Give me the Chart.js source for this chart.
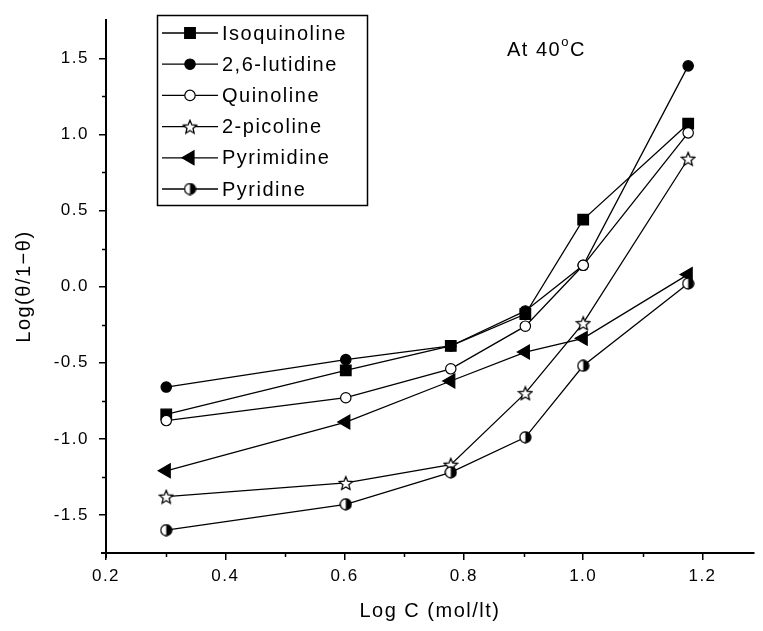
<!DOCTYPE html>
<html><head><meta charset="utf-8">
<script src="https://cdn.jsdelivr.net/npm/chart.js@4.4.1/dist/chart.umd.min.js"></script>
<style>html,body{margin:0;padding:0;background:#fff;} #wrap{width:763px;height:631px;position:relative;}</style>
</head><body><div id="wrap"><canvas id="c" width="763" height="631"></canvas></div>
<script>
// ---- data ----
const logC = [0.301, 0.602, 0.778, 0.903, 1.000, 1.176];
const isoquinoline = [-0.84, -0.55, -0.39, -0.18, 0.44, 1.07];
const lutidine     = [-0.66, -0.48, -0.39, -0.16, 0.14, 1.45];
const quinoline    = [-0.88, -0.73, -0.54, -0.26, 0.14, 1.01];
const picoline     = [-1.38, -1.29, -1.17, -0.70, -0.24, 0.84];
const pyrimidine   = [-1.21, -0.89, -0.62, -0.43, -0.34, 0.08];
const pyridine     = [-1.60, -1.43, -1.22, -0.99, -0.52, 0.02];
const seriesNames = ['Isoquinoline', '2,6-lutidine', 'Quinoline', '2-picoline', 'Pyrimidine', 'Pyridine'];
const xTicks = [0.2, 0.4, 0.6, 0.8, 1.0, 1.2];
const yTicks = [-1.5, -1.0, -0.5, 0.0, 0.5, 1.0, 1.5];
const xMinorTicks = [0.3, 0.5, 0.7, 0.9, 1.1];
const yMinorTicks = [-1.25, -0.75, -0.25, 0.25, 0.75, 1.25];
const xTitle = 'Log C (mol/lt)';
const yTitle = 'Log(\u03b8/1\u2212\u03b8)';
const noteMain = 'At 40', noteSup = 'o', noteEnd = 'C';

const FONT = "'Liberation Sans', Arial, sans-serif";

function makeStar(size) {
  const c = document.createElement('canvas'); c.width = c.height = size;
  const g = c.getContext('2d');
  const cx = size / 2, cy = size / 2 + 0.8, R = size / 2 - 1, r = R * 0.45;
  g.beginPath();
  for (let i = 0; i < 10; i++) {
    const a = -Math.PI / 2 + i * Math.PI / 5, rr = i % 2 ? r : R;
    g.lineTo(cx + rr * Math.cos(a), cy + rr * Math.sin(a));
  }
  g.closePath(); g.fillStyle = '#fff'; g.fill();
  g.strokeStyle = '#000'; g.lineWidth = 1.3; g.stroke();
  return c;
}
function makeHalf(size) {
  const c = document.createElement('canvas'); c.width = c.height = size;
  const g = c.getContext('2d');
  const cx = size / 2, cy = size / 2, r = size / 2 - 1;
  g.beginPath(); g.arc(cx, cy, r, 0, Math.PI * 2); g.fillStyle = '#fff'; g.fill();
  g.beginPath(); g.moveTo(cx, cy - r); g.arc(cx, cy, r, -Math.PI / 2, Math.PI / 2); g.closePath();
  g.fillStyle = '#000'; g.fill();
  g.beginPath(); g.arc(cx, cy, r, 0, Math.PI * 2); g.strokeStyle = '#000'; g.lineWidth = 1.3; g.stroke();
  return c;
}
const starImg = makeStar(16);
const halfImg = makeHalf(13);

const seriesValues = [isoquinoline, lutidine, quinoline, picoline, pyrimidine, pyridine];
const styles = [
  {pointStyle: 'rect', pointRadius: 7.5, pointBackgroundColor: '#000', pointRotation: 0},
  {pointStyle: 'circle', pointRadius: 5.2, pointBackgroundColor: '#000', pointRotation: 0},
  {pointStyle: 'circle', pointRadius: 5.2, pointBackgroundColor: '#fff', pointRotation: 0},
  {pointStyle: starImg, pointRadius: 8, pointBackgroundColor: '#fff', pointRotation: 0},
  {pointStyle: 'triangle', pointRadius: 8, pointBackgroundColor: '#000', pointRotation: -90},
  {pointStyle: halfImg, pointRadius: 6.5, pointBackgroundColor: '#fff', pointRotation: 0}
];

const datasets = seriesNames.map((name, i) => Object.assign({
  label: name,
  data: logC.map((x, j) => ({x: x, y: seriesValues[i][j]})),
  borderColor: '#000',
  borderWidth: 1.3,
  pointBorderColor: '#000',
  pointBorderWidth: 1.2,
  pointHoverRadius: 0,
  fill: false,
  tension: 0,
  order: 10 - i
}, styles[i]));

const helperPlugin = {
  id: 'helper',
  beforeDraw(chart) {
    chart.ctx.letterSpacing = '1.5px';
  },
  afterDraw(chart) {
    const ctx = chart.ctx, xs = chart.scales.x, ys = chart.scales.y, ca = chart.chartArea;
    ctx.save();
    ctx.strokeStyle = '#000'; ctx.lineWidth = 1.5;
    // minor ticks
    xMinorTicks.forEach(v => {
      const px = Math.round(xs.getPixelForValue(v)) + 0.5;
      ctx.beginPath(); ctx.moveTo(px, ca.bottom); ctx.lineTo(px, ca.bottom + 4); ctx.stroke();
    });
    yMinorTicks.forEach(v => {
      const py = Math.round(ys.getPixelForValue(v)) + 0.5;
      ctx.beginPath(); ctx.moveTo(ca.left, py); ctx.lineTo(ca.left - 4, py); ctx.stroke();
    });
    // axis overhangs
    ctx.lineWidth = 2;
    ctx.beginPath(); ctx.moveTo(ca.left - 5, ca.bottom); ctx.lineTo(ca.left, ca.bottom); ctx.stroke();
    ctx.beginPath(); ctx.moveTo(ca.left, ca.bottom); ctx.lineTo(ca.left, ca.bottom + 5); ctx.stroke();

    // legend
    const bx = 157, by = 15, bw = 210, bh = 190;
    ctx.fillStyle = '#fff'; ctx.fillRect(bx, by, bw, bh);
    ctx.lineWidth = 1.5; ctx.strokeStyle = '#000';
    ctx.strokeRect(bx + 0.5, by + 0.5, bw, bh);
    ctx.font = '20px ' + FONT; ctx.textBaseline = 'middle'; ctx.textAlign = 'left';
    chart.data.datasets.forEach((ds, i) => {
      const y = by + 18 + i * 31.2;
      ctx.strokeStyle = '#000'; ctx.lineWidth = 1.3;
      ctx.beginPath(); ctx.moveTo(bx + 5, y); ctx.lineTo(bx + 61, y); ctx.stroke();
      ctx.fillStyle = ds.pointBackgroundColor; ctx.strokeStyle = '#000'; ctx.lineWidth = ds.pointBorderWidth;
      Chart.helpers.drawPoint(ctx, {pointStyle: ds.pointStyle, rotation: ds.pointRotation, radius: ds.pointRadius, borderWidth: ds.pointBorderWidth}, bx + 33, y);
      ctx.fillStyle = '#000';
      ctx.fillText(ds.label, bx + 65, y + 1);
    });
    // annotation
    ctx.textBaseline = 'alphabetic';
    ctx.font = '20px ' + FONT;
    let x = 507; const base = 56;
    ctx.fillText(noteMain, x, base); x += ctx.measureText(noteMain).width;
    ctx.font = '13px ' + FONT;
    ctx.fillText(noteSup, x, base - 10); x += ctx.measureText(noteSup).width;
    ctx.font = '20px ' + FONT;
    ctx.fillText(noteEnd, x, base);
    ctx.restore();
  }
};

new Chart(document.getElementById('c'), {
  type: 'line',
  data: {datasets: datasets},
  plugins: [helperPlugin],
  options: {
    responsive: false,
    animation: false,
    events: [],
    layout: {padding: {top: 16, right: 0, bottom: 0, left: 0}},
    plugins: {legend: {display: false}, tooltip: {enabled: false}},
    scales: {
      x: {
        type: 'linear', position: 'bottom', min: 0.2, max: 1.286,
        afterBuildTicks: s => { s.ticks = xTicks.map(v => ({value: v})); },
        afterFit: s => { s.height = 78; },
        ticks: {color: '#000', font: {family: FONT, size: 17}, padding: 6, maxRotation: 0, autoSkip: false,
                callback: v => Number(v).toFixed(1)},
        grid: {drawOnChartArea: false, drawTicks: true, tickLength: 7, color: '#000', lineWidth: 1.5},
        border: {display: true, color: '#000', width: 2},
        title: {display: true, text: xTitle, color: '#000', font: {family: FONT, size: 20}, padding: {top: 0, bottom: 8}}
      },
      y: {
        type: 'linear', position: 'left', min: -1.75, max: 1.75,
        afterBuildTicks: s => { s.ticks = yTicks.map(v => ({value: v})); },
        afterFit: s => { s.width = 106; },
        ticks: {color: '#000', font: {family: FONT, size: 17}, padding: 10, autoSkip: false,
                callback: v => Number(v).toFixed(1)},
        grid: {drawOnChartArea: false, drawTicks: true, tickLength: 7, color: '#000', lineWidth: 1.5},
        border: {display: true, color: '#000', width: 2},
        title: {display: true, text: yTitle, color: '#000', font: {family: FONT, size: 20}, padding: {top: 12, bottom: 0}}
      }
    }
  }
});
</script></body></html>
